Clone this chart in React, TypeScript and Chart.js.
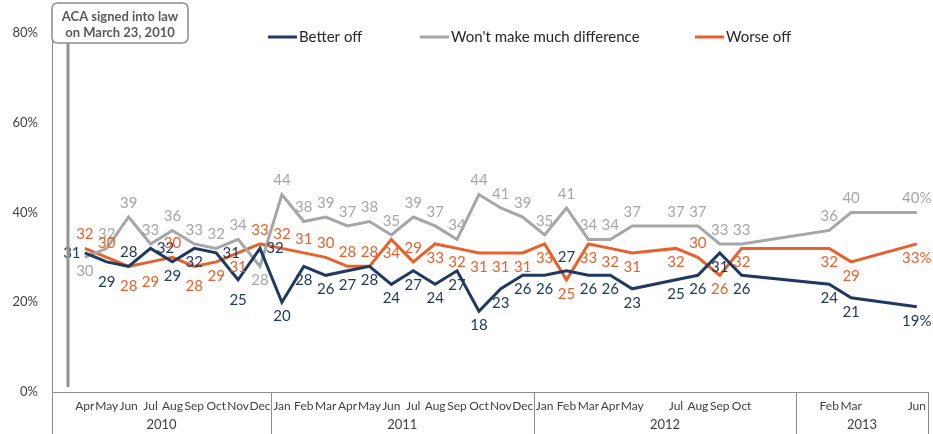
import React, { useEffect, useRef } from 'react';
import { Chart, registerables } from 'chart.js';

Chart.register(...registerables);

// Mar 2010 .. Jun 2013 (one slot per month)
const monthLabels = [
  '', 'Apr', 'May', 'Jun', 'Jul', 'Aug', 'Sep', 'Oct', 'Nov', 'Dec',
  'Jan', 'Feb', 'Mar', 'Apr', 'May', 'Jun', 'Jul', 'Aug', 'Sep', 'Oct', 'Nov', 'Dec',
  'Jan', 'Feb', 'Mar', 'Apr', 'May', '', 'Jul', 'Aug', 'Sep', 'Oct', '', '',
  '', 'Feb', 'Mar', '', '', 'Jun',
];
const yearLabels = ['2010', '2011', '2012', '2013'];
const yearSlotCounts = [10, 12, 12, 6];
const yTicks = [0, 20, 40, 60, 80];

const betterOff = [
  null, 31, 29, 28, 32, 29, 32, 31, 25, 32,
  20, 28, 26, 27, 28, 24, 27, 24, 27, 18, 23, 26,
  26, 27, 26, 26, 23, null, 25, 26, 31, 26, null, null,
  null, 24, 21, null, null, 19,
];
const noDifference = [
  null, 30, 32, 39, 33, 36, 33, 32, 34, 28,
  44, 38, 39, 37, 38, 35, 39, 37, 34, 44, 41, 39,
  35, 41, 34, 34, 37, null, 37, 37, 33, 33, null, null,
  null, 36, 40, null, null, 40,
];
const worseOff = [
  null, 32, 30, 28, 29, 30, 28, 29, 31, 33,
  32, 31, 30, 28, 28, 34, 29, 33, 32, 31, 31, 31,
  33, 25, 33, 32, 31, null, 32, 30, 26, 32, null, null,
  null, 32, 29, null, null, 33,
];

// label placement (style): a above, b below, B far below, l left, r right
const betterOffPos = [
  '', 'l', 'B', 'a', 'r', 'b', 'b', 'r', 'B', 'r',
  'b', 'b', 'b', 'b', 'b', 'b', 'b', 'b', 'b', 'b', 'b', 'b',
  'b', 'a', 'b', 'b', 'b', '', 'b', 'b', 'b', 'b', '', '',
  '', 'b', 'b', '', '', 'b',
];
const noDifferencePos = [
  '', 'b', 'a', 'a', 'a', 'a', 'a', 'a', 'a', 'b',
  'a', 'a', 'a', 'a', 'a', 'a', 'a', 'a', 'a', 'a', 'a', 'a',
  'a', 'a', 'a', 'a', 'a', '', 'a', 'a', 'a', 'a', '', '',
  '', 'a', 'a', '', '', 'a',
];
const worseOffPos = [
  '', 'a', 'a', 'B', 'B', 'a', 'B', 'b', 'b', 'a',
  'a', 'a', 'a', 'a', 'a', 'b', 'a', 'b', 'b', 'b', 'b', 'b',
  'b', 'b', 'b', 'b', 'b', '', 'b', 'a', 'b', 'b', '', '',
  '', 'b', 'b', '', '', 'b',
];

const NAVY = '#1F3A60';
const GRAY = '#A6A6A6';
const ORANGE = '#E8612C';
const AXIS = '#8C8C8C';
const TEXT = '#404040';
const FONT = 'Lato, "Open Sans", sans-serif';

const seriesNames = ['Better off', "Won't make much difference", 'Worse off'];

const overlayPlugin = {
  id: 'overlay',
  afterDatasetsDraw(chart: any) {
    const ctx = chart.ctx;
    const positions = [betterOffPos, noDifferencePos, worseOffPos];
    ctx.save();
    ctx.font = `15px ${FONT}`;
    ctx.textAlign = 'center';
    ctx.textBaseline = 'middle';
    chart.data.datasets.forEach((ds: any, di: number) => {
      const meta = chart.getDatasetMeta(di);
      let lastIdx = -1;
      ds.data.forEach((v: any, i: number) => { if (v != null) lastIdx = i; });
      ds.data.forEach((v: any, i: number) => {
        if (v == null) return;
        const el = meta.data[i];
        const p = positions[di][i];
        let dx = 0, dy = 0;
        if (p === 'a') dy = -14;
        else if (p === 'b') dy = 14;
        else if (p === 'B') dy = 20;
        else if (p === 'l') dx = -13;
        else if (p === 'r') dx = 15;
        ctx.fillStyle = ds.borderColor;
        ctx.fillText(String(v) + (i === lastIdx ? '%' : ''), el.x + dx, el.y + dy);
      });
    });
    ctx.restore();
  },
  afterDraw(chart: any) {
    const ctx = chart.ctx;
    const area = chart.chartArea;
    const xs = chart.scales.x;
    const H = chart.height;
    const slot = xs.getPixelForValue(1) - xs.getPixelForValue(0);
    ctx.save();
    // axis extensions and year separators
    ctx.strokeStyle = AXIS;
    ctx.lineWidth = 1;
    let idx = 0;
    const bounds: number[] = [area.left];
    yearSlotCounts.forEach((n) => {
      idx += n;
      bounds.push(xs.getPixelForValue(idx - 1) + slot / 2);
    });
    bounds.forEach((bx) => {
      const x = Math.round(bx) + 0.5;
      ctx.beginPath();
      ctx.moveTo(x, area.bottom);
      ctx.lineTo(x, H);
      ctx.stroke();
    });
    ctx.fillStyle = TEXT;
    ctx.font = `13px ${FONT}`;
    ctx.textAlign = 'center';
    ctx.textBaseline = 'middle';
    yearLabels.forEach((y, i) => {
      ctx.fillText(y, (bounds[i] + bounds[i + 1]) / 2, area.bottom + 33);
    });

    // ACA line
    const acaX = xs.getPixelForValue(0) + slot * 0.23;
    ctx.strokeStyle = '#939393';
    ctx.lineWidth = 3;
    ctx.beginPath();
    ctx.moveTo(acaX, 43);
    ctx.lineTo(acaX, area.bottom - 5);
    ctx.stroke();

    // annotation box
    const bx = area.left, by = 3, bw = 136, bh = 40, r = 6;
    ctx.beginPath();
    ctx.moveTo(bx + r, by);
    ctx.lineTo(bx + bw - r, by);
    ctx.quadraticCurveTo(bx + bw, by, bx + bw, by + r);
    ctx.lineTo(bx + bw, by + bh - r);
    ctx.quadraticCurveTo(bx + bw, by + bh, bx + bw - r, by + bh);
    ctx.lineTo(bx + r, by + bh);
    ctx.quadraticCurveTo(bx, by + bh, bx, by + bh - r);
    ctx.lineTo(bx, by + r);
    ctx.quadraticCurveTo(bx, by, bx + r, by);
    ctx.closePath();
    ctx.fillStyle = '#FFFFFF';
    ctx.fill();
    ctx.strokeStyle = '#8C8C8C';
    ctx.lineWidth = 1.5;
    ctx.stroke();
    ctx.fillStyle = '#595959';
    ctx.font = `bold 13px ${FONT}`;
    ctx.fillText('ACA signed into law', bx + bw / 2, by + 14);
    ctx.fillText('on March 23, 2010', bx + bw / 2, by + 30);

    // legend
    const legendX = [268, 420, 695];
    const colors = [NAVY, GRAY, ORANGE];
    ctx.font = `15px ${FONT}`;
    ctx.textAlign = 'left';
    seriesNames.forEach((name, i) => {
      ctx.strokeStyle = colors[i];
      ctx.lineWidth = 3;
      ctx.beginPath();
      ctx.moveTo(legendX[i], 37);
      ctx.lineTo(legendX[i] + 29, 37);
      ctx.stroke();
      ctx.fillStyle = '#262626';
      ctx.fillText(name, legendX[i] + 31, 37);
    });
    ctx.restore();
  },
};

export default function App() {
  const ref = useRef<HTMLCanvasElement>(null);
  useEffect(() => {
    document.body.style.margin = '0';
    const canvas = ref.current!;
    const mk = (label: string, data: any[], color: string) => ({
      label,
      data,
      borderColor: color,
      backgroundColor: color,
      borderWidth: 3,
      pointRadius: 0,
      tension: 0,
      spanGaps: true,
    });
    const chart = new Chart(canvas, {
      type: 'line',
      data: {
        labels: monthLabels,
        datasets: [
          mk(seriesNames[0], betterOff, NAVY),
          mk(seriesNames[1], noDifference, GRAY),
          mk(seriesNames[2], worseOff, ORANGE),
        ],
      },
      options: {
        responsive: false,
        animation: false,
        devicePixelRatio: 1,
        layout: { padding: { left: 0, right: 5, top: 33, bottom: 0 } },
        plugins: { legend: { display: false }, tooltip: { enabled: false } },
        scales: {
          x: {
            type: 'category',
            offset: true,
            grid: { display: false, drawTicks: false },
            border: { display: true, color: AXIS, width: 1 },
            ticks: {
              autoSkip: false,
              maxRotation: 0,
              minRotation: 0,
              padding: 7,
              color: TEXT,
              font: { family: FONT, size: 12 },
            },
            afterFit: (s: any) => { s.height = 42; },
          },
          y: {
            min: 0,
            max: 80,
            afterBuildTicks: (s: any) => { s.ticks = yTicks.map((v) => ({ value: v })); },
            grid: { display: false, drawTicks: false },
            border: { display: true, color: AXIS, width: 1 },
            ticks: {
              padding: 14,
              color: TEXT,
              font: { family: FONT, size: 13 },
              callback: (v: any) => v + '%',
            },
            afterFit: (s: any) => { s.width = 52; },
          },
        },
      },
      plugins: [overlayPlugin],
    });
    return () => chart.destroy();
  }, []);
  return <canvas ref={ref} width={933} height={434} style={{ display: 'block' }} />;
}
